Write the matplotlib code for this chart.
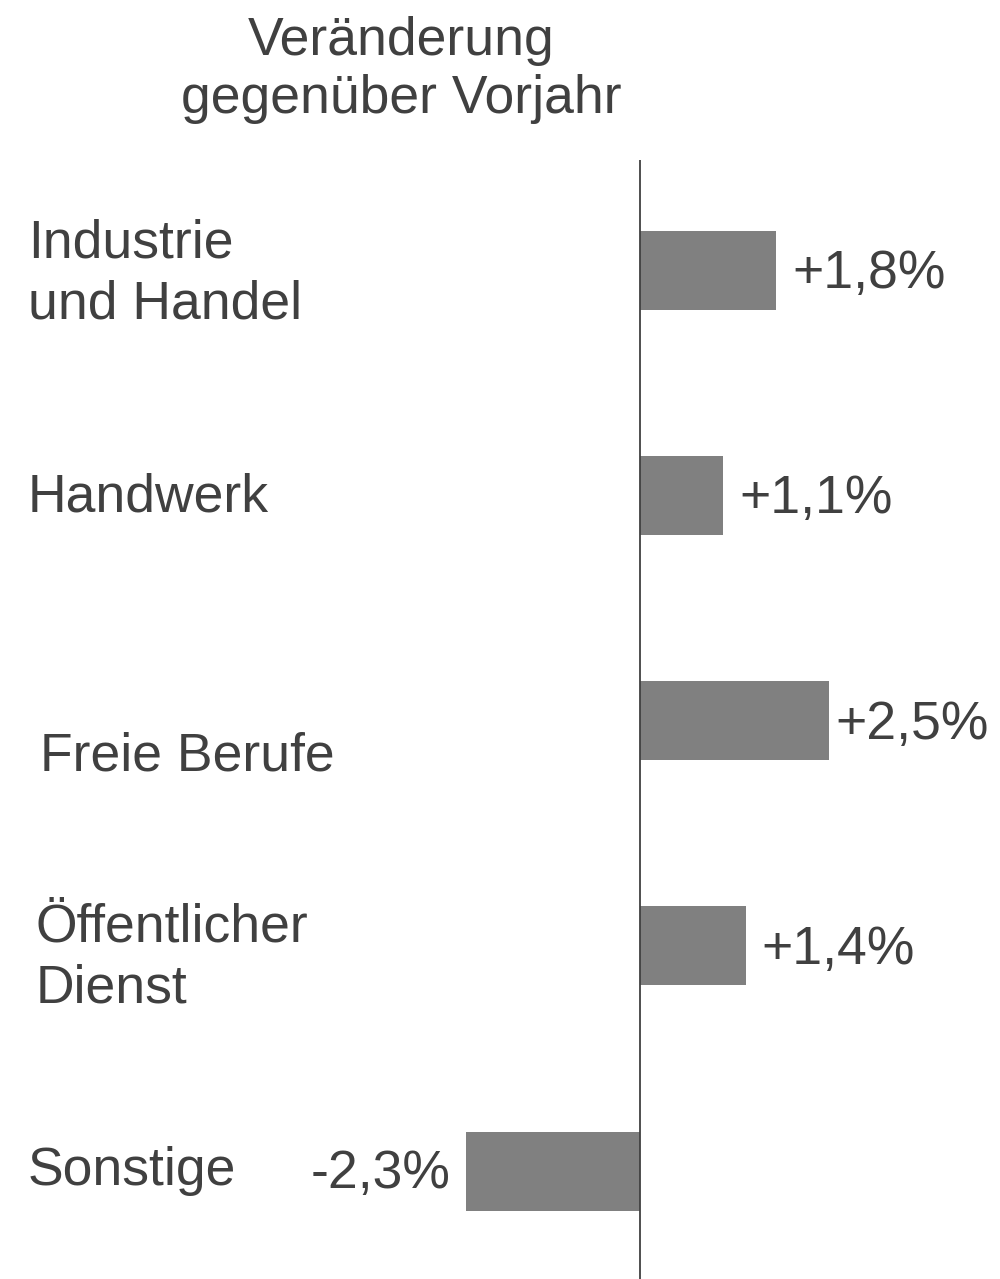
import matplotlib
matplotlib.use("Agg")
import matplotlib.pyplot as plt

categories = ["Industrie\nund Handel", "Handwerk", "Freie Berufe", "Öffentlicher\nDienst", "Sonstige"]
values = [1.8, 1.1, 2.5, 1.4, -2.3]
value_labels = ["+1,8%", "+1,1%", "+2,5%", "+1,4%", "-2,3%"]
title = "Veränderung\ngegenüber Vorjahr"

plt.rcParams['font.family'] = ['Liberation Sans', 'DejaVu Sans']
TXT = "#404040"
FS = 38.5

W, H = 1000, 1279
fig = plt.figure(figsize=(W / 100, H / 100), dpi=100)
ax = fig.add_axes([0, 0, 1, 1])

ppu = 75.5          # pixels per unit of value
x0_px = 640         # zero line
step_px = 225.3     # spacing between bars
y0_px = 270         # centre of first bar

ax.set_xlim(-x0_px / ppu, (W - x0_px) / ppu)
ax.set_ylim((H - y0_px) / step_px, -y0_px / step_px)
ax.axis("off")

pos = list(range(len(categories)))
ax.barh(pos, values, height=79 / step_px, color="#808080", zorder=2)
ax.plot([0, 0], [(160 - y0_px) / step_px, (H - y0_px) / step_px + 0.1],
        color=TXT, lw=1.3, zorder=3, solid_capstyle="butt")

# category labels
label_x_px = [28, 28, 40, 36, 28]
label_dy_px = [4, 2, 36, 12, 0]
for i, (c, lx, dy) in enumerate(zip(categories, label_x_px, label_dy_px)):
    ax.text(lx / W, 1 - (y0_px + i * step_px + dy) / H, c, transform=ax.transAxes,
            ha="left", va="center", fontsize=FS, color=TXT, linespacing=1.27)

# value labels
label_gap_px = [16, 16, 7, 16, 16]
for i, (v, t, g) in enumerate(zip(values, value_labels, label_gap_px)):
    off = g / ppu
    if v >= 0:
        ax.text(v + off, i + 4 / step_px, t, ha="left", va="center", fontsize=FS, color=TXT)
    else:
        ax.text(v - off, i + 3 / step_px, t, ha="right", va="center", fontsize=FS, color=TXT)

fig.text(401 / W, 1 - 70 / H, title, ha="center", va="center", fontsize=FS,
         color=TXT, linespacing=1.2)

fig.savefig("out.png", dpi=100, facecolor="white")
